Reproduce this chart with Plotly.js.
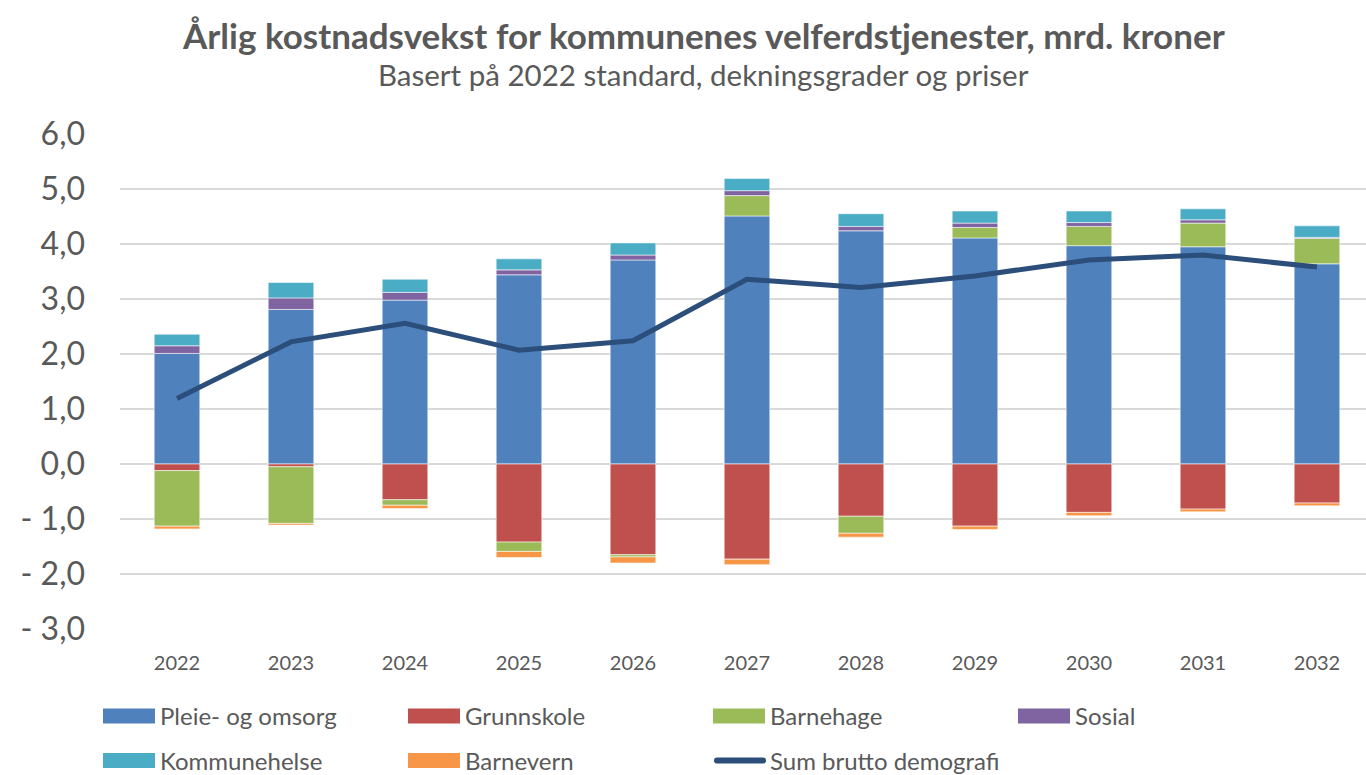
<!DOCTYPE html>
<html>
<head>
<meta charset="utf-8">
<script src="https://cdn.plot.ly/plotly-3.0.1.min.js"></script>
<style>html,body{margin:0;padding:0;background:#fff;}#chart{width:1366px;height:775px;}</style>
</head>
<body>
<div id="chart"></div>
<script>
const years = ["2022","2023","2024","2025","2026","2027","2028","2029","2030","2031","2032"];
const pleieOmsorg  = [2.01, 2.81, 2.98, 3.44, 3.71, 4.51, 4.24, 4.11, 3.97, 3.95, 3.64];
const grunnskole   = [-0.12, -0.05, -0.65, -1.42, -1.65, -1.73, -0.95, -1.13, -0.88, -0.82, -0.71];
const barnehage    = [-1.01, -1.03, -0.10, -0.17, -0.04, 0.37, -0.31, 0.19, 0.35, 0.43, 0.46];
const sosial       = [0.14, 0.21, 0.14, 0.09, 0.09, 0.09, 0.08, 0.08, 0.07, 0.06, 0.02];
const kommunehelse = [0.21, 0.28, 0.24, 0.20, 0.22, 0.22, 0.23, 0.22, 0.21, 0.20, 0.21];
const barnevern    = [-0.05, -0.03, -0.06, -0.11, -0.11, -0.10, -0.07, -0.06, -0.06, -0.05, -0.05];
const sumBrutto    = [1.19, 2.22, 2.56, 2.07, 2.24, 3.36, 3.21, 3.42, 3.71, 3.80, 3.58];
const yTickVals  = [-3, -2, -1, 0, 1, 2, 3, 4, 5, 6];
const yTickText  = ["- 3,0", "- 2,0", "- 1,0", "0,0", "1,0", "2,0", "3,0", "4,0", "5,0", "6,0"];
const titleText    = 'Årlig kostnadsvekst for kommunenes velferdstjenester, mrd. kroner';
const subtitleText = 'Basert på 2022 standard, dekningsgrader og priser';

const FONT = "Lato, 'Open Sans', sans-serif";
const edge = {width: 1, color: 'rgba(255,255,255,0.55)'};
function barTrace(name, vals, color, legend) {
  return {type: 'bar', name: name, x: years, y: vals, legend: legend,
    marker: {color: color, line: edge}, hoverinfo: 'x+y+name'};
}
const data = [
  barTrace('Pleie- og omsorg', pleieOmsorg, '#4F81BD', 'legend'),
  barTrace('Grunnskole', grunnskole, '#C0504D', 'legend'),
  barTrace('Barnehage', barnehage, '#9BBB59', 'legend'),
  barTrace('Sosial', sosial, '#8064A2', 'legend'),
  barTrace('Kommunehelse', kommunehelse, '#4BACC6', 'legend2'),
  barTrace('Barnevern', barnevern, '#F79646', 'legend2'),
  {type: 'scatter', mode: 'lines', name: 'Sum brutto demografi', x: years, y: sumBrutto,
   legend: 'legend2', line: {color: '#2C4E7A', width: 5}}
];

const legendCommon = {
  orientation: 'h', xanchor: 'left', yanchor: 'middle', yref: 'container', xref: 'container',
  entrywidth: 238, entrywidthmode: 'pixels', itemwidth: 52,
  font: {family: FONT, size: 24, color: '#595959'},
  bgcolor: 'rgba(0,0,0,0)', traceorder: 'normal', itemclick: false, borderwidth: 0
};

const layout = {
  width: 1366, height: 775,
  margin: {l: 120, r: 0, t: 134, b: 146, autoexpand: false},
  paper_bgcolor: '#fff', plot_bgcolor: '#fff',
  barmode: 'relative', bargap: 0.6,
  font: {family: FONT, color: '#595959'},
  xaxis: {
    type: 'category', range: [-0.5, 10.43], showgrid: false, zeroline: false,
    showline: false, ticks: '', tickfont: {family: FONT, size: 20, color: '#595959'},
    ticklabelstandoff: 20, fixedrange: true
  },
  yaxis: {
    range: [-3, 6], tickvals: yTickVals, ticktext: yTickText,
    showgrid: true, gridcolor: '#D9D9D9', gridwidth: 2,
    zeroline: true, zerolinecolor: '#D9D9D9', zerolinewidth: 2,
    showline: false, ticks: '', ticklabelstandoff: 34,
    tickfont: {family: FONT, size: 32, color: '#595959'}, fixedrange: true
  },
  legend: Object.assign({}, legendCommon, {x: 98 / 1366, y: 1 - 716.5 / 775}),
  legend2: Object.assign({}, legendCommon, {x: 98 / 1366, y: 1 - 761 / 775}),
  showlegend: true,
  annotations: [
    {text: '<b>' + titleText + '</b>',
     xref: 'paper', yref: 'paper', x: (703 - 120) / 1246, y: (629 - 35) / 495,
     xanchor: 'center', yanchor: 'middle', showarrow: false,
     font: {family: FONT, size: 35, color: '#595959'}},
    {text: subtitleText,
     xref: 'paper', yref: 'paper', x: (703 - 120) / 1246, y: (629 - 75) / 495,
     xanchor: 'center', yanchor: 'middle', showarrow: false,
     font: {family: FONT, size: 29.5, color: '#595959'}}
  ]
};

Plotly.newPlot('chart', data, layout, {displayModeBar: false}).then(function (gd) {
  gd.querySelectorAll('g.traces').forEach(function (tr) {
    tr.querySelectorAll('.legendpoints path').forEach(function (p) {
      if (p.closest('.legendlines')) return;
      p.setAttribute('d', 'M-26,7.5H26V-7.5H-26Z');
      p.style.strokeWidth = '0px';
    });
    tr.querySelectorAll('.legendlines path').forEach(function (p) {
      p.setAttribute('d', 'M9,0h46');
      p.style.strokeLinecap = 'round';
      p.style.strokeWidth = '6px';
    });
  });
});
</script>
</body>
</html>
